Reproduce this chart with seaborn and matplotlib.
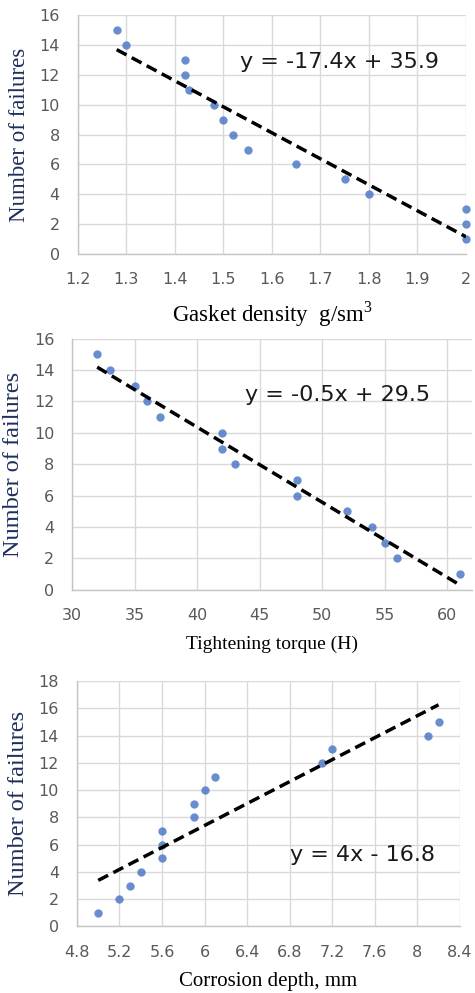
import matplotlib
matplotlib.use('Agg')
import matplotlib.pyplot as plt
import seaborn as sns

# ==============================================================
# data
# ==============================================================
density = [1.28, 1.30, 1.42, 1.42, 1.43, 1.48, 1.50, 1.52, 1.55, 1.65, 1.75, 1.80, 2.0, 2.0, 2.0]
density_fail = [15, 14, 13, 12, 11, 10, 9, 8, 7, 6, 5, 4, 3, 2, 1]

torque = [32, 33, 35, 36, 37, 42, 42, 43, 48, 48, 52, 54, 55, 56, 61]
torque_fail = [15, 14, 13, 12, 11, 10, 9, 8, 7, 6, 5, 4, 3, 2, 1]

corrosion = [5.0, 5.2, 5.3, 5.4, 5.6, 5.6, 5.6, 5.9, 5.9, 6.0, 6.1, 7.1, 7.2, 8.1, 8.2]
corrosion_fail = [1, 2, 3, 4, 5, 6, 7, 8, 9, 10, 11, 12, 13, 14, 15]

equations = ['y = -17.4x + 35.9', 'y = -0.5x + 29.5', 'y = 4x - 16.8']
xlabels = ['Gasket density  g/sm$^3$', 'Tightening torque (H)', 'Corrosion depth, mm']

# ==============================================================
# style
# ==============================================================
sns.set_style('white')
plt.rcParams['font.family'] = ['DejaVu Sans']
plt.rcParams['mathtext.fontset'] = 'custom'
plt.rcParams['mathtext.rm'] = 'Liberation Serif'

dot_color = '#4472C4'
grid_color = '#d9d9d9'
tick_color = '#595959'
ylab_color = '#1f2f5c'

fig = plt.figure(figsize=(4.75, 9.93), dpi=100)

panels = [
    # rect, x, y, xlim, ylim, xticks, yticks, text pos, xlabel size, ylabel size
    ([0.164, 0.744, 0.817, 0.241], density, density_fail, (1.2, 2.0), (0, 16),
     [1.2, 1.3, 1.4, 1.5, 1.6, 1.7, 1.8, 1.9, 2.0], range(0, 17, 2), (1.534, 12.85), 16.5, 16.5),
    ([0.152, 0.406, 0.842, 0.253], torque, torque_fail, (30, 62), (0, 16),
     range(30, 61, 5), range(0, 17, 2), (43.84, 12.43), 14, 17.5),
    ([0.162, 0.067, 0.806, 0.247], corrosion, corrosion_fail, (4.8, 8.4), (0, 18),
     [4.8, 5.2, 5.6, 6.0, 6.4, 6.8, 7.2, 7.6, 8.0, 8.4], range(0, 19, 2), (6.80, 5.22), 15, 17.5),
]

for i, (rect, xs, ys, xlim, ylim, xt, yt, tpos, xls, yls) in enumerate(panels):
    ax = fig.add_axes(rect)
    sns.regplot(x=xs, y=ys, ax=ax, ci=None,
                scatter_kws={'color': dot_color, 's': 36, 'linewidths': 0, 'clip_on': False, 'zorder': 3},
                line_kws={'color': 'black', 'lw': 2.5, 'linestyle': (0, (3.2, 1.7)), 'zorder': 4})
    ax.set_xlim(*xlim)
    ax.set_ylim(*ylim)
    ax.set_xticks(list(xt))
    ax.set_yticks(list(yt))
    if i == 0:
        ax.set_xticklabels(['1.2', '1.3', '1.4', '1.5', '1.6', '1.7', '1.8', '1.9', '2'])
    if i == 2:
        ax.set_xticklabels(['4.8', '5.2', '5.6', '6', '6.4', '6.8', '7.2', '7.6', '8', '8.4'])
    ax.grid(True, color=grid_color, lw=1)
    ax.set_axisbelow(True)
    for side in ['top', 'right']:
        ax.spines[side].set_visible(False)
    for side in ['left', 'bottom']:
        ax.spines[side].set_color('#c4c4c4')
        ax.spines[side].set_linewidth(1)
    ax.tick_params(axis='both', length=0, labelsize=11.5, colors=tick_color, pad=13)
    ax.set_xlabel(xlabels[i], family='Liberation Serif', fontsize=xls, color='black', labelpad=9)
    ax.set_ylabel('Number of failures', family='Liberation Serif', fontsize=yls, color=ylab_color, labelpad=7)
    ax.text(tpos[0], tpos[1], equations[i], fontsize=16, color='#1a1a1a', va='center', ha='left')

plt.savefig('out.png', dpi=100)
